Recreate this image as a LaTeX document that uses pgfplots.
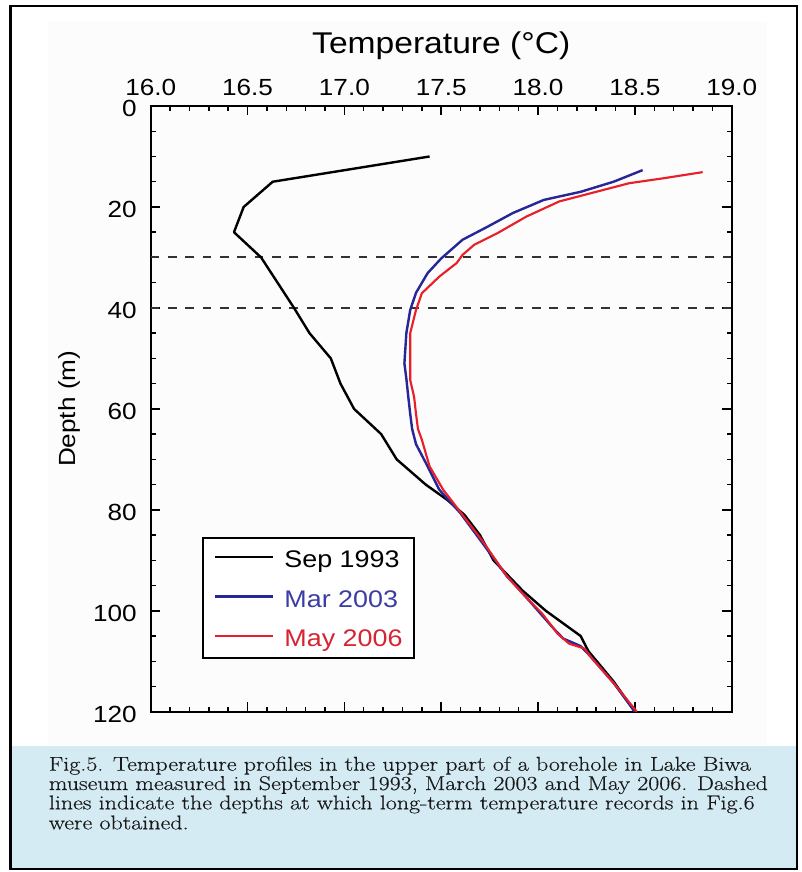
\documentclass[border=0pt]{standalone}
\usepackage{fontspec}
\usepackage{graphicx}
\usepackage{pgfplots}
\pgfplotsset{compat=1.18}

\newfontfamily\arial{Liberation Sans}[FakeStretch=1.12]
\newfontfamily\capserif{Latin Modern Roman}[FakeBold=0.35]
\newcommand\tickfont{\arial\fontsize{17.5pt}{18pt}\selectfont}
\newcommand\capfont{\capserif\fontsize{15pt}{15pt}\selectfont}

\definecolor{capblue}{RGB}{212,235,243}
\definecolor{panel}{RGB}{252,252,252}
\definecolor{marline}{RGB}{38,38,150}
\definecolor{mayline}{RGB}{232,30,40}
\definecolor{martext}{RGB}{60,60,165}
\definecolor{maytext}{RGB}{215,35,50}
\definecolor{dashcol}{RGB}{50,50,50}

\newlength\capw

\begin{document}%
\settowidth\capw{\capfont museum measured in September 1993, March 2003 and May 2006. Dashed}%
\pgfmathsetmacro\capsx{539.25pt/\capw}%
\begin{tikzpicture}
% page, frame and caption box (1 px = 0.75 pt, y grows downward)
\path[fill=white] (0pt,0pt) rectangle (600.75pt,-654pt);
\path[fill=panel] (36.2pt,-16.3pt) rectangle (575.25pt,-558.75pt);
\path[fill=capblue] (7.9pt,-559.5pt) rectangle (597.5pt,-651.75pt);
\draw[line width=1.65pt] (7.9pt,-4.35pt) rectangle (597.5pt,-651.75pt);

\begin{axis}[
  at={(113.03pt,-533.78pt)}, anchor=south west,
  scale only axis, width=435.75pt, height=454.28pt,
  xmin=16, xmax=19, ymin=0, ymax=120, y dir=reverse,
  xtick={16,16.5,17,17.5,18,18.5,19},
  ytick={0,20,40,60,80,100,120},
  minor x tick num=4, minor y tick num=3,
  tick pos=both, xticklabel pos=upper, yticklabel pos=left,
  tick align=inside,
  major tick length=7pt, minor tick length=3.75pt,
  axis line style={line width=1.7pt},
  every tick/.style={black, line width=1.1pt},
  /pgf/number format/assume math mode=true,
  xticklabel style={/pgf/number format/fixed, /pgf/number format/fixed zerofill,
    /pgf/number format/precision=1,
    font=\tickfont, anchor=base, inner sep=0pt, yshift=8.25pt},
  yticklabel style={font=\tickfont, anchor=east, inner sep=0pt, xshift=-10.3pt, yshift=-2pt},
  xlabel={Temperature (°C)},
  xlabel style={at={(axis description cs:0.5,1)}, anchor=base, inner sep=0pt,
    yshift=39.75pt, font=\arial\fontsize{22.5pt}{23pt}\selectfont},
  ylabel={Depth (m)},
  ylabel style={at={(axis description cs:-0.1303,0.5)}, anchor=base, inner sep=0pt,
    font=\arial\fontsize{17.5pt}{18pt}\selectfont},
  legend cell align=left,
  legend image code/.code={\draw[#1] (0pt,1pt) -- (43.5pt,1pt);},
  legend style={at={(axis description cs:0.0878,0.2889)}, anchor=north west,
    draw=black, line width=1.5pt, fill=white,
    font=\arial\fontsize{18pt}{18pt}\selectfont,
    inner xsep=8.5pt, inner ysep=8.35pt, row sep=15.5pt, column sep=7.5pt,
    nodes={inner sep=0pt, outer sep=0pt, text height=14.1pt, text depth=0pt}},
]
% depths of the long-term temperature records
\addplot[dashcol, line width=1.5pt, dash pattern=on 6.5pt off 6.5pt, forget plot]
  coordinates {(16,30) (19,30)};
\addplot[dashcol, line width=1.5pt, dash pattern=on 6.5pt off 6.5pt, forget plot]
  coordinates {(16,40) (19,40)};

% September 1993
\addplot[black, line width=1.8pt, line join=round] coordinates {
  (17.44,10) (16.63,15) (16.48,20) (16.43,25) (16.57,30) (16.74,40)
  (16.82,45) (16.93,50) (16.98,55) (17.05,60) (17.19,65) (17.27,70)
  (17.42,75) (17.53,78) (17.62,81) (17.70,85) (17.77,90) (17.92,96)
  (18.04,100) (18.22,105) (18.26,108) (18.39,114) (18.50,120)};
\addlegendentry{Sep 1993}

% March 2003
\addplot[marline, line width=1.8pt, line join=round] coordinates {
  (18.54,12.7) (18.39,15) (18.22,17) (18.03,18.6) (17.87,21.2) (17.74,23.9)
  (17.61,26.5) (17.50,30.2) (17.43,33.1) (17.37,37) (17.34,40.4) (17.32,45)
  (17.31,51) (17.32,54) (17.33,57.6) (17.34,61) (17.35,64) (17.37,67)
  (17.43,71.4) (17.49,76) (17.60,80.7) (17.70,85.9) (17.84,93.2) (17.92,96.5)
  (18.00,100) (18.08,103.5) (18.13,105.5) (18.22,107) (18.27,109)
  (18.39,114.3) (18.50,120)};
\addlegendentry{\textcolor{martext}{Mar 2003}}

% May 2006
\addplot[mayline, line width=1.6pt, line join=round] coordinates {
  (18.85,13.1) (18.65,14.3) (18.47,15.3) (18.30,17) (18.11,18.9) (17.94,21.9)
  (17.79,25.2) (17.67,27.5) (17.61,29.5) (17.58,31.1) (17.49,33.8) (17.40,37.1)
  (17.37,40.4) (17.34,45) (17.34,51) (17.34,54.3) (17.36,57.6) (17.37,61)
  (17.38,64) (17.40,66.1) (17.44,71.4) (17.51,76) (17.60,80.5) (17.71,86)
  (17.84,93.2) (17.93,97) (18.02,100.5) (18.10,104.5) (18.16,106.5)
  (18.24,107.5) (18.28,109.5) (18.39,114.3) (18.51,120)};
\addlegendentry{\textcolor{maytext}{May 2006}}
\end{axis}

% caption, one node per printed line, stretched to the box width
\begin{scope}[every node/.style={anchor=base west, inner sep=0pt, text=black!90}]
\node at (36.45pt,-578.0pt) {\scalebox{\capsx}[1]{\capfont Fig.5. Temperature profiles in the upper part of a borehole in Lake Biwa}};
\node at (36.45pt,-592.5pt) {\scalebox{\capsx}[1]{\capfont museum measured in September 1993, March 2003 and May 2006. Dashed}};
\node at (36.45pt,-607.0pt) {\scalebox{\capsx}[1]{\capfont lines indicate the depths at which long-term temperature records in Fig.6}};
\node at (36.45pt,-622.0pt) {\scalebox{\capsx}[1]{\capfont were obtained.}};
\end{scope}
\end{tikzpicture}%
\end{document}
